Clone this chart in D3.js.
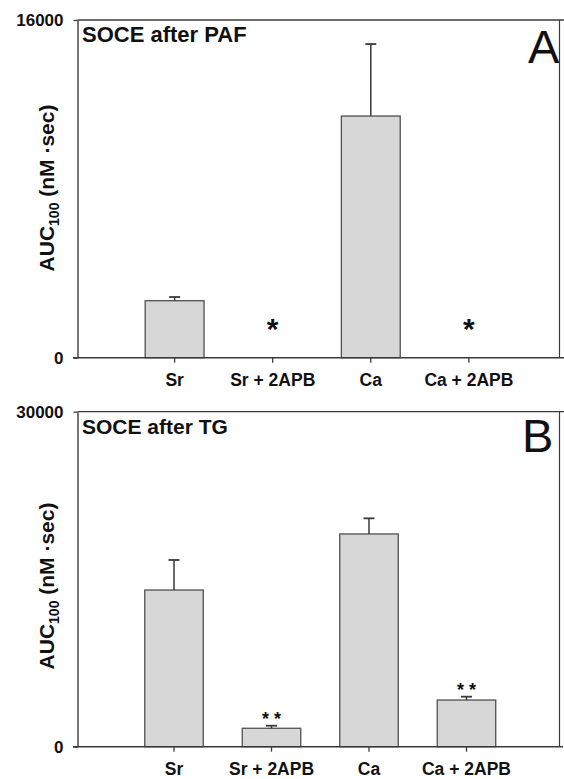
<!DOCTYPE html>
<html>
<head>
<meta charset="utf-8">
<script src="https://cdn.jsdelivr.net/npm/d3@7"></script>
<style>
  body { margin: 0; background: #fff; }
  svg { display: block; }
  text { font-family: "Liberation Sans", Arial, sans-serif; fill: #111; }
</style>
</head>
<body>
<svg id="chart" width="564" height="779"></svg>
<script>
// values
var categories = ['Sr', 'Sr + 2APB', 'Ca', 'Ca + 2APB'];

var pafMeans = [2700, 0, 11450, 0];
var pafErrors = [175, 0, 3410, 0];
var pafStars = ['', '*', '', '*'];
var pafTicks = [0, 16000];

var tgMeans = [14030, 1650, 19050, 4180];
var tgErrors = [2690, 230, 1400, 300];
var tgStars = ['', '* *', '', '* *'];
var tgTicks = [0, 30000];

var svg = d3.select('#chart');

var panels = [
  { title: 'SOCE after PAF', letter: 'A', means: pafMeans, errors: pafErrors, stars: pafStars,
    ticks: pafTicks, top: 20, bottom: 357.7, xEnd: 566, titleSize: 22,
    starSize: 30, starGap: 19, letterX: 528, letterY: 63, labelY: 188 },
  { title: 'SOCE after TG', letter: 'B', means: tgMeans, errors: tgErrors, stars: tgStars,
    ticks: tgTicks, top: 411.7, bottom: 746.7, xEnd: 563, titleSize: 21,
    starSize: 18, starGap: 1, letterX: 522, letterY: 452, labelY: 586 }
];

var left = 77.5;
var frameRight = 559.5;
var ink = '#3a3a3a';

panels.forEach(drawPanel);

function drawPanel(p){
  var g = svg.append('g');

  var x = d3.scaleBand()
    .domain(categories)
    .range([left, p.xEnd])
    .paddingInner(0.4)
    .paddingOuter(0.69);

  var y = d3.scaleLinear()
    .domain([0, d3.max(p.ticks)])
    .range([p.bottom, p.top]);

  var rows = categories.map(function(c, i){
    return { cat: c, mean: p.means[i], err: p.errors[i], star: p.stars[i] };
  });

  // frame: top and right edges
  g.append('line')
    .attr('x1', left).attr('x2', 564)
    .attr('y1', y.range()[1]).attr('y2', y.range()[1])
    .attr('stroke', ink).attr('stroke-width', 1.3);
  g.append('line')
    .attr('x1', frameRight).attr('x2', frameRight)
    .attr('y1', y.range()[1]).attr('y2', y.range()[0])
    .attr('stroke', ink).attr('stroke-width', 1.2);

  // bars
  var bars = rows.filter(function(d){ return d.mean > 0; });
  g.selectAll('rect.bar')
    .data(bars)
    .enter()
    .append('rect')
    .attr('class', 'bar')
    .attr('x', function(d){ return x(d.cat); })
    .attr('y', function(d){ return y(d.mean); })
    .attr('width', x.bandwidth())
    .attr('height', function(d){ return y(0) - y(d.mean); })
    .attr('fill', '#d7d7d7')
    .attr('stroke', '#505050')
    .attr('stroke-width', 1.3);

  // upper error bars
  var cx = function(d){ return x(d.cat) + x.bandwidth() / 2; };
  g.selectAll('line.err')
    .data(bars)
    .enter()
    .append('line')
    .attr('class', 'err')
    .attr('x1', cx).attr('x2', cx)
    .attr('y1', function(d){ return y(d.mean); })
    .attr('y2', function(d){ return y(d.mean + d.err); })
    .attr('stroke', ink).attr('stroke-width', 1.5);
  g.selectAll('line.cap')
    .data(bars)
    .enter()
    .append('line')
    .attr('class', 'cap')
    .attr('x1', function(d){ return cx(d) - 5.5; })
    .attr('x2', function(d){ return cx(d) + 5.5; })
    .attr('y1', function(d){ return y(d.mean + d.err); })
    .attr('y2', function(d){ return y(d.mean + d.err); })
    .attr('stroke', ink).attr('stroke-width', 1.8);

  // significance stars
  g.selectAll('text.star')
    .data(rows.filter(function(d){ return d.star; }))
    .enter()
    .append('text')
    .attr('class', 'star')
    .attr('x', cx)
    .attr('y', function(d){ return y(d.mean + d.err) - p.starGap; })
    .attr('text-anchor', 'middle')
    .attr('font-size', p.starSize + 'px')
    .attr('font-weight', 'bold')
    .text(function(d){ return d.star; });

  // axes
  var xAxis = g.append('g')
    .attr('transform', 'translate(0,' + p.bottom + ')')
    .call(d3.axisBottom(x).tickSize(5).tickPadding(11).tickSizeOuter(0));
  xAxis.select('.domain').remove();
  xAxis.append('line')
    .attr('x1', left - 4.5).attr('x2', p.xEnd)
    .attr('stroke', ink).attr('stroke-width', 1.4);
  xAxis.selectAll('.tick line').attr('stroke', ink).attr('stroke-width', 1.3);
  xAxis.selectAll('.tick text')
    .attr('fill', '#111')
    .attr('font-size', '17.5px')
    .attr('font-weight', 'bold')
    .attr('font-family', '"Liberation Sans", Arial, sans-serif');

  var yAxis = g.append('g')
    .attr('transform', 'translate(' + left + ',0)')
    .call(d3.axisLeft(y).tickValues(p.ticks).tickFormat(d3.format('d')).tickSize(4).tickPadding(10).tickSizeOuter(0));
  yAxis.select('.domain').attr('stroke', ink).attr('stroke-width', 1.4);
  yAxis.selectAll('.tick line').attr('stroke', ink).attr('stroke-width', 1.3);
  yAxis.selectAll('.tick text')
    .attr('fill', '#111')
    .attr('font-size', '17px')
    .attr('font-weight', 'bold')
    .attr('font-family', '"Liberation Sans", Arial, sans-serif');

  // y axis title
  var yl = g.append('text')
    .attr('transform', 'translate(54,' + p.labelY + ') rotate(-90)')
    .attr('text-anchor', 'middle')
    .attr('font-size', '21px')
    .attr('font-weight', 'bold');
  yl.append('tspan').text('AUC');
  yl.append('tspan').attr('font-size', '14px').attr('dy', 5).text('100');
  yl.append('tspan').attr('dy', -5).text(' (nM \u00b7sec)');

  // panel title and letter
  g.append('text')
    .attr('x', 82).attr('y', p.top + 22)
    .attr('font-size', p.titleSize + 'px')
    .attr('font-weight', 'bold')
    .text(p.title);
  g.append('text')
    .attr('x', p.letterX).attr('y', p.letterY)
    .attr('font-size', '47px')
    .text(p.letter);
}
</script>
</body>
</html>
